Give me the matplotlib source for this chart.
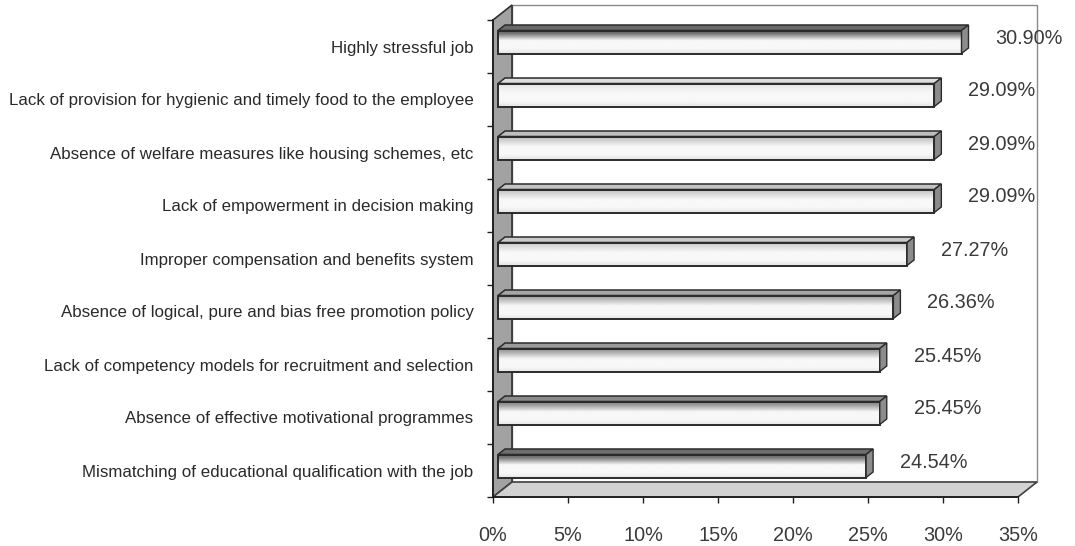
import numpy as np
import matplotlib
matplotlib.use("Agg")
import matplotlib.pyplot as plt
from matplotlib.patches import Polygon, Rectangle
from matplotlib import font_manager as fm

# ---------------- data ----------------
categories = [
    "Highly stressful job",
    "Lack of provision for hygienic and timely food to the employee",
    "Absence of welfare measures like housing schemes, etc",
    "Lack of empowerment in decision making",
    "Improper compensation and benefits system",
    "Absence of logical, pure and bias free promotion policy",
    "Lack of competency models for recruitment and selection",
    "Absence of effective motivational programmes",
    "Mismatching of educational qualification with the job",
]
values = [30.90, 29.09, 29.09, 29.09, 27.27, 26.36, 25.45, 25.45, 24.54]
value_labels = ["30.90%", "29.09%", "29.09%", "29.09%", "27.27%",
                "26.36%", "25.45%", "25.45%", "24.54%"]
xticks = [0, 5, 10, 15, 20, 25, 30, 35]
xtick_labels = ["0%", "5%", "10%", "15%", "20%", "25%", "30%", "35%"]

# per-bar shading (style): grey level at the top of the front face
top_shade = [0.36, 0.82, 0.7, 0.72, 0.74, 0.6, 0.56, 0.5, 0.38]


def has_font(name):
    try:
        fm.findfont(fm.FontProperties(family=name), fallback_to_default=False)
        return True
    except Exception:
        return False


narrow = has_font("Liberation Sans Narrow")
cat_family = "Liberation Sans Narrow" if narrow else "Liberation Sans"
cat_size = 14.2 if narrow else 12.2
num_family = "Liberation Sans"

W, H = 1075, 546
fig = plt.figure(figsize=(W / 100, H / 100), dpi=100)
fig.patch.set_facecolor("white")

ax_left, ax_right = 493, 1018
ax_top, ax_bottom = 20, 497
ax = fig.add_axes([ax_left / W, (H - ax_bottom) / H,
                   (ax_right - ax_left) / W, (ax_bottom - ax_top) / H])
xmax = 35.0
n = len(categories)
ax.set_xlim(0, xmax)
ax.set_ylim(n - 0.5, -0.5)

# pixel -> data conversions (x to the right, y upward on screen)
sx = xmax / (ax_right - ax_left)
sy = n / (ax_bottom - ax_top)


def off(x, y, dxp, dyp):
    return (x + dxp * sx, y - dyp * sy)


# depth of the 3D box
DX, DY = 19, 15
y_top, y_bot = -0.5, n - 0.5

# back wall
back = Polygon([off(0, y_top, DX, DY), off(xmax, y_top, DX, DY),
                off(xmax, y_bot, DX, DY), off(0, y_bot, DX, DY)],
               closed=True, facecolor="white", edgecolor="#8a8a8a", lw=1.0,
               zorder=1, clip_on=False)
ax.add_patch(back)
# left wall
lwall = Polygon([(0, y_top), (0, y_bot), off(0, y_bot, DX, DY), off(0, y_top, DX, DY)],
                closed=True, facecolor="#a2a2a2", edgecolor="#303030", lw=1.2,
                zorder=2, clip_on=False)
ax.add_patch(lwall)
# floor
floor = Polygon([(0, y_bot), (xmax, y_bot), off(xmax, y_bot, DX, DY), off(0, y_bot, DX, DY)],
                closed=True, facecolor="#d2d2d2", edgecolor="#404040", lw=1.2,
                zorder=2, clip_on=False)
ax.add_patch(floor)

# bars
BX, BY = 5, 4.5        # bar front-face offset inside the box
TX, TY = 7, 5.5        # bar depth
bh = 23 * sy           # front face height in data units

t = np.linspace(0, 1, 60)
for i, (v, sh) in enumerate(zip(values, top_shade)):
    x0, y0 = off(0, i, BX, BY)
    x1 = x0 + v
    ytop, ybot = y0 - bh / 2, y0 + bh / 2
    # gradient of the front face
    prof = np.interp(t, [0, 0.15, 0.45, 0.8, 1.0], [sh, sh + 0.1, 0.97, 0.97, 0.9])
    prof = np.clip(prof, 0, 1)
    img = np.tile(prof[:, None], (1, 2))
    ax.imshow(img, extent=(x0, x1, ybot, ytop), origin="upper", cmap="gray",
              vmin=0, vmax=1, aspect="auto", interpolation="bilinear", zorder=5)
    ax.add_patch(Rectangle((x0, ytop), v, bh, facecolor="none", edgecolor="#2b2b2b",
                           lw=1.4, zorder=6))
    # top face
    top = Polygon([(x0, ytop), (x1, ytop), off(x1, ytop, TX, TY), off(x0, ytop, TX, TY)],
                  closed=True, facecolor=str(min(sh + 0.05, 0.92)), edgecolor="#2b2b2b",
                  lw=1.1, zorder=6)
    ax.add_patch(top)
    # side face
    side = Polygon([(x1, ytop), off(x1, ytop, TX, TY), off(x1, ybot, TX, TY), (x1, ybot)],
                   closed=True, facecolor="#8c8c8c", edgecolor="#2b2b2b", lw=1.0, zorder=6)
    ax.add_patch(side)
    # value label
    lx, ly = off(x1, i, TX + 27, 8.5)
    ax.text(lx, ly, value_labels[i], ha="left", va="center", fontsize=14.3,
            family=num_family, color="#3a3a3a", zorder=7, clip_on=False)

ax.set_xlim(0, xmax)
ax.set_ylim(n - 0.5, -0.5)

# axes styling
for s in ["top", "right"]:
    ax.spines[s].set_visible(False)
for s in ["left", "bottom"]:
    ax.spines[s].set_color("#202020")
    ax.spines[s].set_linewidth(1.3)
    ax.spines[s].set_zorder(8)

ax.set_xticks(xticks)
ax.set_xticklabels(xtick_labels, fontsize=14.3, family=num_family, color="#3a3a3a")
ax.tick_params(axis="x", direction="out", length=4, width=1, color="#202020", pad=17)

ax.set_yticks(range(n))
ax.set_yticklabels(categories, fontsize=cat_size, family=cat_family, color="#2a2a2a")
ax.tick_params(axis="y", which="major", length=0, pad=14)
ax.set_yticks(np.arange(-0.5, n, 1.0), minor=True)
ax.tick_params(axis="y", which="minor", direction="out", length=4.5, width=1, color="#202020")

fig.savefig("out.png", dpi=100, facecolor="white")
